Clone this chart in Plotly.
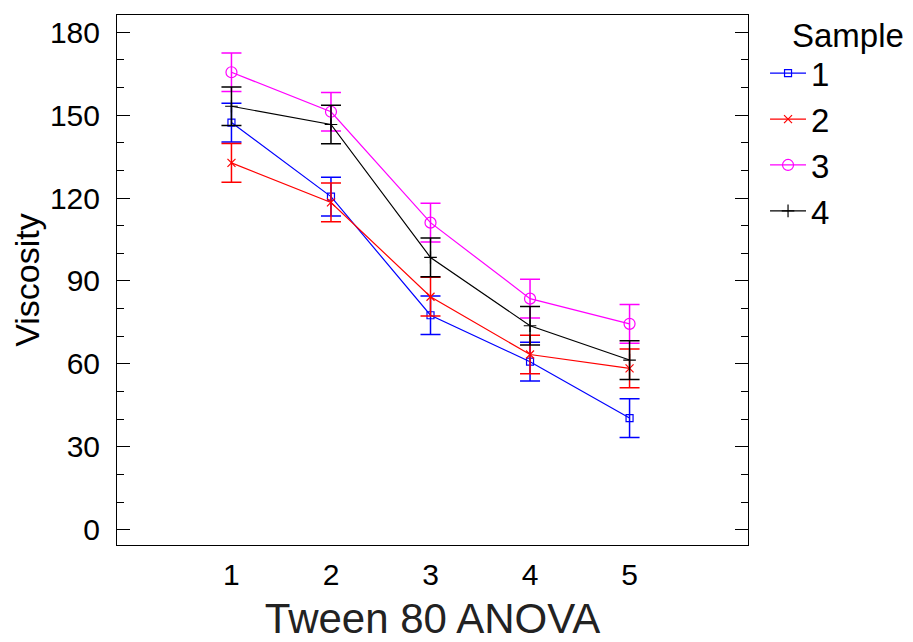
import plotly.graph_objects as go

levels = [1, 2, 3, 4, 5]
samples = ["1", "2", "3", "4"]
viscosity = {
    "1": [147.3, 120.5, 77.6, 60.8, 40.4],
    "2": [132.7, 118.4, 84.3, 63.4, 58.4],
    "3": [165.5, 151.2, 111.1, 83.6, 74.5],
    "4": [153.2, 146.6, 98.5, 73.8, 61.4],
}
half_width = [7.0, 7.0, 7.0, 7.0, 7.0]

colors = {"1": "#0000ff", "2": "#ff0000", "3": "#ff00ff", "4": "#000000"}
symbols = {"1": "square-open", "2": "x-thin-open", "3": "circle-open", "4": "cross-thin-open"}
msizes = {"1": 7, "2": 8, "3": 11, "4": 9}

fig = go.Figure()
for s in samples:
    fig.add_trace(go.Scatter(
        x=levels, y=viscosity[s], name=s, mode="lines+markers",
        line=dict(color=colors[s], width=1.2),
        marker=dict(symbol=symbols[s], size=msizes[s], color=colors[s],
                    line=dict(color=colors[s], width=1.2)),
        error_y=dict(type="data", array=half_width, visible=True,
                     color=colors[s], thickness=1.5, width=10),
    ))

font_family = "Liberation Sans, Arial, sans-serif"
fig.update_layout(
    width=913, height=642,
    margin=dict(l=117, r=165, t=15, b=97, autoexpand=False),
    paper_bgcolor="white", plot_bgcolor="white",
    font=dict(family=font_family, color="black", size=30),
    showlegend=True,
    legend=dict(
        font=dict(size=33),
        x=1.027, xanchor="left", y=0.943, yanchor="top",
        tracegroupgap=0, itemwidth=36, bgcolor="rgba(0,0,0,0)",
    ),
    annotations=[dict(
        text="Sample", xref="paper", yref="paper",
        x=1.066, y=0.962, xanchor="left", yanchor="middle",
        showarrow=False, font=dict(size=33, color="black"),
    )],
    xaxis=dict(
        range=[-0.15, 6.19],
        tickvals=levels, ticktext=[str(v) for v in levels],
        ticks="", showgrid=False, zeroline=False, automargin=False,
        showline=True, linecolor="black", linewidth=1, mirror=True,
        tickfont=dict(size=30), ticklabelstandoff=3,
        title=dict(text="Tween 80 ANOVA", font=dict(size=42, color="#222222"), standoff=20),
    ),
    yaxis=dict(
        range=[-5.5, 186.2],
        tickvals=[0, 30, 60, 90, 120, 150, 180],
        ticks="inside", ticklen=13, tickcolor="black", tickwidth=1,
        minor=dict(dtick=10, tick0=0, ticks="inside", ticklen=7, tickcolor="black", tickwidth=1, showgrid=False),
        showgrid=False, zeroline=False, automargin=False,
        showline=True, linecolor="black", linewidth=1, mirror="ticks",
        tickfont=dict(size=30), ticklabelstandoff=10,
        title=dict(text="Viscosity", font=dict(size=34), standoff=0),
    ),
)

fig.write_html("out.html")
